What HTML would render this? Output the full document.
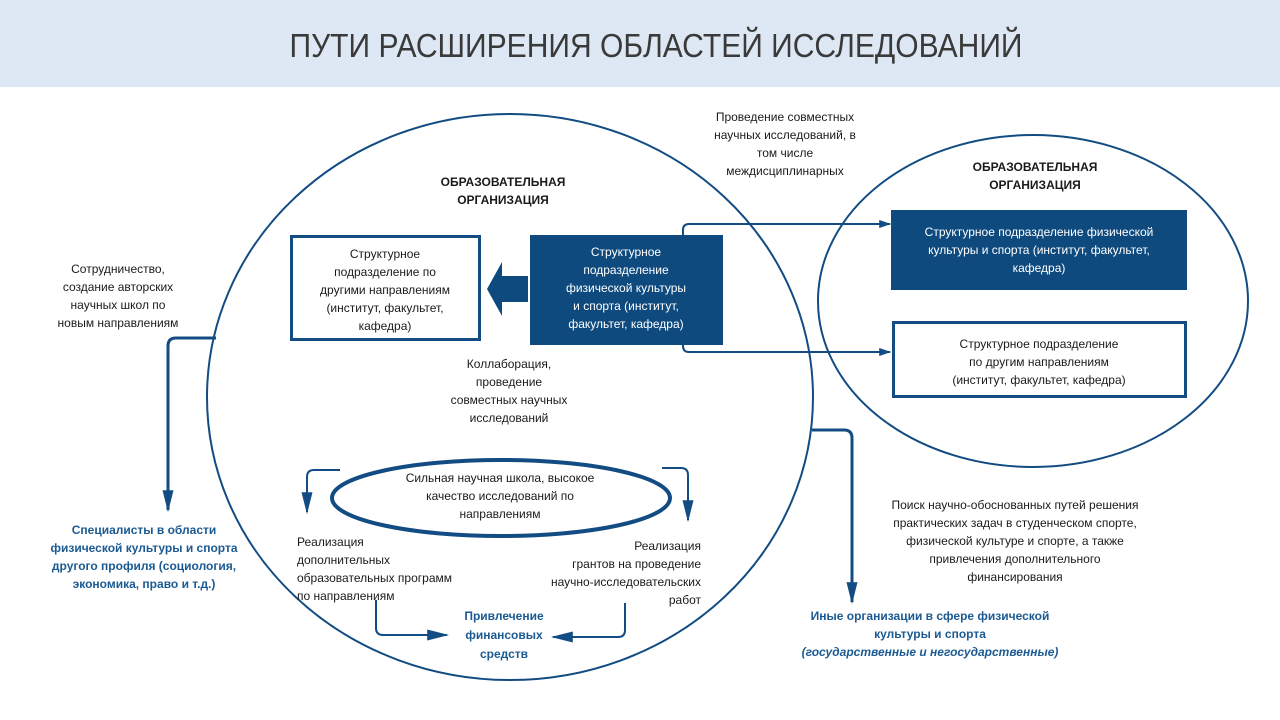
<!DOCTYPE html>
<html><head><meta charset="utf-8"><style>
html,body{margin:0;padding:0;background:#fff;}
svg{display:block;font-family:"Liberation Sans","DejaVu Sans",sans-serif;}
.t{font-size:12px;fill:#1a1a1a;}
.b{font-size:12px;fill:#1a1a1a;font-weight:bold;}
.bl{font-size:12px;fill:#1b5a92;font-weight:bold;}
.w{font-size:12px;fill:#fff;}
</style></head><body>
<svg width="1280" height="720" viewBox="0 0 1280 720" xmlns="http://www.w3.org/2000/svg">
<defs>
<marker id="a" viewBox="0 0 10 10" refX="9" refY="5" markerWidth="12" markerHeight="8" orient="auto" markerUnits="userSpaceOnUse" preserveAspectRatio="none"><path d="M0,0 L10,5 L0,10 z" fill="#124c82"/></marker>
<marker id="A" viewBox="0 0 10 10" refX="9" refY="5" markerWidth="22" markerHeight="11" orient="auto" markerUnits="userSpaceOnUse" preserveAspectRatio="none"><path d="M0,0 L10,5 L0,10 z" fill="#124c82"/></marker>
</defs>
<rect x="0" y="0" width="1280" height="87" fill="#dde8f4"/>
<text x="656" y="57" text-anchor="middle" font-size="33" fill="#3a3a3a" textLength="733" lengthAdjust="spacingAndGlyphs">ПУТИ РАСШИРЕНИЯ ОБЛАСТЕЙ ИССЛЕДОВАНИЙ</text>

<g fill="none" stroke="#124c82" stroke-width="2">
<ellipse cx="510" cy="397" rx="303" ry="283"/>
<ellipse cx="1033" cy="301" rx="215" ry="166"/>
</g>
<ellipse cx="501" cy="498" rx="169" ry="38" fill="none" stroke="#124c82" stroke-width="4"/>

<rect x="291.5" y="236.5" width="188" height="103" fill="#fff" stroke="#124c82" stroke-width="3"/>
<rect x="530" y="235" width="193" height="110" fill="#0e4a7e"/>
<path d="M528,276 L502,276 L502,262 L487,289 L502,316 L502,302 L528,302 Z" fill="#0e4a7e"/>
<rect x="891" y="210" width="296" height="80" fill="#0e4a7e"/>
<rect x="893.5" y="322.5" width="292" height="74" fill="#fff" stroke="#124c82" stroke-width="3"/>

<g fill="none" stroke="#124c82" stroke-width="2">
<path d="M683,235 L683,230 Q683,224 689,224 L890,224" marker-end="url(#a)"/>
<path d="M683,345 L683,346 Q683,352 689,352 L890,352" marker-end="url(#a)"/>
<path d="M216,338 L176,338 Q168,338 168,346 L168,510" marker-end="url(#A)" stroke-width="3"/>
<path d="M812,430 L844,430 Q852,430 852,438 L852,602" marker-end="url(#A)" stroke-width="3"/>
<path d="M340,470 L314,470 Q307,470 307,477 L307,512" marker-end="url(#A)"/>
<path d="M662,468 L681,468 Q688,468 688,475 L688,520" marker-end="url(#A)"/>
<path d="M376,600 L376,628 Q376,635 383,635 L447,635" marker-end="url(#A)"/>
<path d="M625,603 L625,630 Q625,637 618,637 L553,637" marker-end="url(#A)"/>
</g>

<g class="t" text-anchor="middle">
<text x="785" y="121">Проведение совместных</text>
<text x="785" y="139">научных исследований, в</text>
<text x="785" y="157">том числе</text>
<text x="785" y="175">междисциплинарных</text>
<text x="118" y="273">Сотрудничество,</text>
<text x="118" y="291">создание авторских</text>
<text x="118" y="309">научных школ по</text>
<text x="118" y="327">новым направлениям</text>
<text x="385" y="258">Структурное</text>
<text x="385" y="276">подразделение по</text>
<text x="385" y="294">другими направлениям</text>
<text x="385" y="312">(институт, факультет,</text>
<text x="385" y="330">кафедра)</text>
<text x="509" y="368">Коллаборация,</text>
<text x="509" y="386">проведение</text>
<text x="509" y="404">совместных научных</text>
<text x="509" y="422">исследований</text>
<text x="500" y="482">Сильная научная школа, высокое</text>
<text x="500" y="500">качество исследований по</text>
<text x="500" y="518">направлениям</text>
<text x="1039" y="348">Структурное подразделение</text>
<text x="1039" y="366">по другим направлениям</text>
<text x="1039" y="384">(институт, факультет, кафедра)</text>
<text x="1015" y="509">Поиск научно-обоснованных путей решения</text>
<text x="1015" y="527">практических задач в студенческом спорте,</text>
<text x="1015" y="545">физической культуре и спорте, а также</text>
<text x="1015" y="563">привлечения дополнительного</text>
<text x="1015" y="581">финансирования</text>
</g>

<g class="t">
<text x="297" y="546">Реализация</text>
<text x="297" y="564">дополнительных</text>
<text x="297" y="582">образовательных программ</text>
<text x="297" y="600">по направлениям</text>
</g>
<g class="t" text-anchor="end">
<text x="701" y="550">Реализация</text>
<text x="701" y="568">грантов на проведение</text>
<text x="701" y="586">научно-исследовательских</text>
<text x="701" y="604">работ</text>
</g>

<g class="w" text-anchor="middle">
<text x="626" y="256">Структурное</text>
<text x="626" y="274">подразделение</text>
<text x="626" y="292">физической культуры</text>
<text x="626" y="310">и спорта (институт,</text>
<text x="626" y="328">факультет, кафедра)</text>
<text x="1039" y="236">Структурное подразделение физической</text>
<text x="1039" y="254">культуры и спорта (институт, факультет,</text>
<text x="1039" y="272">кафедра)</text>
</g>

<g class="b" text-anchor="middle">
<text x="503" y="186">ОБРАЗОВАТЕЛЬНАЯ</text>
<text x="503" y="204">ОРГАНИЗАЦИЯ</text>
<text x="1035" y="171">ОБРАЗОВАТЕЛЬНАЯ</text>
<text x="1035" y="189">ОРГАНИЗАЦИЯ</text>
</g>
<g class="bl" text-anchor="middle">
<text x="144" y="534">Специалисты в области</text>
<text x="144" y="552">физической культуры и спорта</text>
<text x="144" y="570">другого профиля (социология,</text>
<text x="144" y="588">экономика, право и т.д.)</text>
<text x="504" y="620">Привлечение</text>
<text x="504" y="639">финансовых</text>
<text x="504" y="658">средств</text>
<text x="930" y="620">Иные организации в сфере физической</text>
<text x="930" y="638">культуры и спорта</text>
<text x="930" y="656" font-style="italic">(государственные и негосударственные)</text>
</g>
</svg>
</body></html>
